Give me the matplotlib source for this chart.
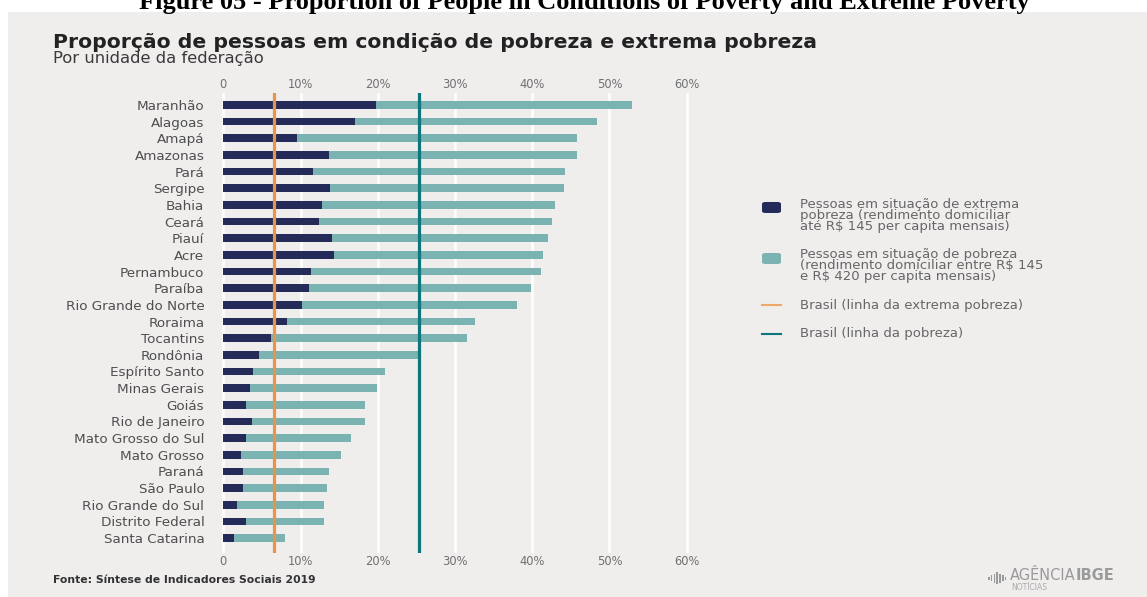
import numpy as np
import matplotlib.pyplot as plt
from matplotlib.patches import FancyBboxPatch, Rectangle
from matplotlib.lines import Line2D

# data (% of population)
states = ['Maranhão', 'Alagoas', 'Amapá', 'Amazonas', 'Pará', 'Sergipe', 'Bahia',
          'Ceará', 'Piauí', 'Acre', 'Pernambuco', 'Paraíba', 'Rio Grande do Norte',
          'Roraima', 'Tocantins', 'Rondônia', 'Espírito Santo', 'Minas Gerais', 'Goiás',
          'Rio de Janeiro', 'Mato Grosso do Sul', 'Mato Grosso', 'Paraná', 'São Paulo',
          'Rio Grande do Sul', 'Distrito Federal', 'Santa Catarina']
extreme = [19.8, 17.1, 9.6, 13.7, 11.6, 13.8, 12.8, 12.4, 14.1, 14.3, 11.3, 11.1, 10.2,
           8.3, 6.2, 4.6, 3.9, 3.5, 3.0, 3.7, 2.9, 2.3, 2.6, 2.6, 1.8, 3.0, 1.4]
poverty = [52.9, 48.4, 45.8, 45.8, 44.3, 44.1, 42.9, 42.6, 42.0, 41.4, 41.1, 39.9, 38.0,
           32.6, 31.6, 25.2, 20.9, 19.9, 18.4, 18.3, 16.5, 15.2, 13.7, 13.4, 13.1, 13.1, 8.0]
brasil_extreme = 6.5
brasil_poverty = 25.3
xticks = [0, 10, 20, 30, 40, 50, 60]
xticklabels = ['0', '10%', '20%', '30%', '40%', '50%', '60%']

DARK = '#242b58'
TEAL = '#7ab3b1'
ORANGE = '#e8954a'
TEAL_LINE = '#0e777c'
GREY_TXT = '#4f4f4f'
BG = '#f0eded'

W, H = 1147, 597
fig = plt.figure(figsize=(W / 100, H / 100), dpi=100)
fig.patch.set_facecolor('white')


def px(x):
    return x / W


def py(y):
    return 1 - y / H


# grey panel behind the infographic
fig.patches.append(Rectangle((px(8), 0), 1 - px(8), py(12), transform=fig.transFigure,
                             facecolor=BG, edgecolor='none', zorder=-5))

# caption above the panel (cut at the top edge)
fig.text(px(584), py(9), 'Figure 05 - Proportion of People in Conditions of Poverty and Extreme Poverty',
         ha='center', va='baseline', family='Liberation Serif', weight='bold', fontsize=19, color='black')

fig.text(px(53), py(43), 'Proporção de pessoas em condição de pobreza e extrema pobreza',
         ha='left', va='center', weight='bold', fontsize=14.7, color='#222222')
fig.text(px(53), py(59), 'Por unidade da federação',
         ha='left', va='center', fontsize=11.8, color='#3a3a3a')

ax = fig.add_axes([px(221), py(553), px(689) - px(221), py(93) - py(553)])
ax.set_facecolor(BG)

y = np.arange(len(states))
rest = np.array(poverty) - np.array(extreme)
ax.barh(y, extreme, height=0.46, color=DARK, zorder=3)
ax.barh(y, rest, left=extreme, height=0.46, color=TEAL, zorder=3)

ax.axvline(brasil_extreme, color=ORANGE, lw=2.3, zorder=4)
ax.axvline(brasil_poverty, color=TEAL_LINE, lw=2.3, zorder=4)

ax.set_xlim(-0.3, 60.3)
ax.set_ylim(26.9, -0.72)
ax.set_xticks(xticks)
ax.set_xticklabels(xticklabels)
ax.set_yticks(y)
ax.set_yticklabels(states)
ax.grid(axis='x', color='white', lw=1.8, zorder=1)
ax.grid(axis='y', visible=False)
ax.set_axisbelow(True)
for s in ax.spines.values():
    s.set_visible(False)
ax.tick_params(axis='x', length=0, pad=1.5, labeltop=True, labelsize=8.3, labelcolor='#707070')
ax.tick_params(axis='y', length=0, pad=12, labelsize=9.7, labelcolor=GREY_TXT)

# legend, drawn by hand
lx = px(762)
fig.patches.append(FancyBboxPatch((lx, py(213)), px(19), py(202) - py(213),
                                  boxstyle='round,pad=0,rounding_size=0.003',
                                  transform=fig.transFigure, facecolor=DARK, edgecolor='none'))
fig.patches.append(FancyBboxPatch((lx, py(264)), px(19), py(253) - py(264),
                                  boxstyle='round,pad=0,rounding_size=0.003',
                                  transform=fig.transFigure, facecolor=TEAL, edgecolor='none'))
fig.lines.append(Line2D([lx, px(781)], [py(305), py(305)], transform=fig.transFigure,
                        color='#f0a868', lw=1.5))
fig.lines.append(Line2D([lx, px(781)], [py(334), py(334)], transform=fig.transFigure,
                        color=TEAL_LINE, lw=1.5))

LEG_TXT = '#666666'
leg_kw = dict(ha='left', va='top', fontsize=9.5, color=LEG_TXT, linespacing=0.8)
fig.text(px(800), py(198), 'Pessoas em situação de extrema\npobreza (rendimento domiciliar\naté R$ 145 per capita mensais)', **leg_kw)
fig.text(px(800), py(248), 'Pessoas em situação de pobreza\n(rendimento domiciliar entre R$ 145\ne R$ 420 per capita mensais)', **leg_kw)
fig.text(px(800), py(305), 'Brasil (linha da extrema pobreza)', ha='left', va='center',
         fontsize=9.5, color=LEG_TXT)
fig.text(px(800), py(334), 'Brasil (linha da pobreza)', ha='left', va='center',
         fontsize=9.5, color=LEG_TXT)

fig.text(px(53), py(580), 'Fonte: Síntese de Indicadores Sociais 2019', ha='left', va='center',
         fontsize=7.8, weight='bold', color='#333333')

# agency logo (text plus a small bar icon)
for i, h in enumerate([3, 6, 9, 12, 9, 6, 3]):
    fig.patches.append(Rectangle((px(988 + i * 2.8), py(578 + h / 2)), px(1.5), py(0) - py(h),
                                 transform=fig.transFigure, facecolor='#9a9a9a', edgecolor='none'))
fig.text(px(1010), py(576), 'AGÊNCIA', ha='left', va='center', fontsize=10.5, color='#9a9a9a')
fig.text(px(1076), py(576), 'IBGE', ha='left', va='center', fontsize=10.5, weight='bold', color='#9a9a9a')
fig.text(px(1011), py(587), 'NOTÍCIAS', ha='left', va='center', fontsize=5.5, color='#aaaaaa')

fig.savefig('out.png', dpi=100, facecolor=fig.get_facecolor())
